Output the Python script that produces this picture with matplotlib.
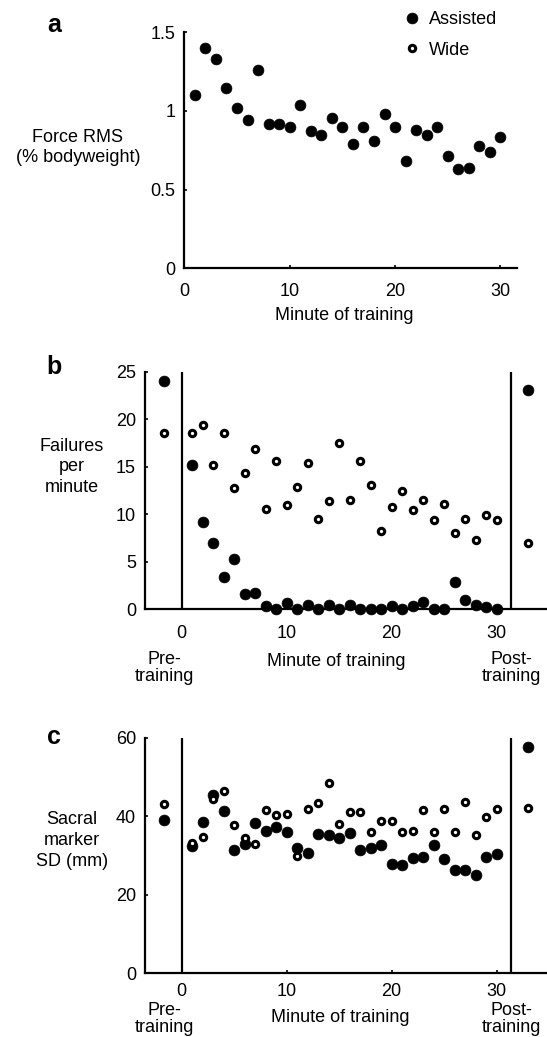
import numpy as np
import matplotlib
matplotlib.use('Agg')
import matplotlib.pyplot as plt

plt.rcParams['font.family'] = ['Liberation Sans', 'DejaVu Sans']

# minute of training (1..30)
minutes = list(range(1, 31))

# panel a: force RMS (% bodyweight), assisted only
force_assisted = [1.10, 1.40, 1.33, 1.145, 1.02, 0.94, 1.26, 0.915, 0.92, 0.90,
                  1.04, 0.87, 0.85, 0.955, 0.895, 0.79, 0.90, 0.81, 0.98, 0.90,
                  0.685, 0.88, 0.845, 0.90, 0.715, 0.633, 0.635, 0.775, 0.74, 0.833]

# panel b: failures per minute
fail_assisted_pre, fail_assisted_post = 24.0, 23.1
fail_assisted = [15.2, 9.15, 7.0, 3.4, 5.25, 1.6, 1.7, 0.3, 0.0, 0.7,
                 0.0, 0.45, 0.0, 0.5, 0.0, 0.45, 0.0, 0.0, 0.0, 0.3,
                 0.0, 0.35, 0.8, 0.0, 0.0, 2.9, 0.95, 0.4, 0.25, 0.0]
fail_wide_pre, fail_wide_post = 18.6, 6.95
fail_wide = [18.6, 19.35, 15.2, 18.55, 12.75, 14.3, 16.9, 10.55, 15.65, 11.0,
             12.9, 15.35, 9.45, 11.4, 17.55, 11.5, 15.65, 13.1, 8.25, 10.8,
             12.45, 10.4, 11.45, 9.35, 11.1, 8.05, 9.45, 7.3, 9.9, 9.35]

# panel c: sacral marker SD (mm)
sacral_assisted_pre, sacral_assisted_post = 39.1, 57.6
sacral_assisted = [32.4, 38.5, 45.4, 41.4, 31.3, 33.0, 38.2, 36.3, 37.2, 36.0,
                   31.8, 30.7, 35.6, 35.3, 34.5, 35.7, 31.3, 31.8, 32.8, 27.8,
                   27.7, 29.4, 29.7, 32.7, 29.0, 26.2, 26.3, 25.0, 29.7, 30.3]
sacral_wide_pre, sacral_wide_post = 43.2, 42.1
sacral_wide = [33.2, 34.6, 44.3, 46.4, 37.8, 34.4, 32.9, 41.5, 40.4, 40.6,
               30.0, 41.8, 43.4, 48.4, 38.0, 41.0, 41.0, 36.1, 38.8, 38.8,
               35.9, 36.2, 41.5, 36.1, 41.9, 35.9, 43.7, 35.2, 39.8, 41.8]

# where pre / post trials sit on the minute axis
PRE_X, POST_X = -1.7, 33.0
POST_LINE = 31.35

W, H = 547, 1037
fig = plt.figure(figsize=(W / 100, H / 100), dpi=100)

def px(x, y):
    # pixel position -> figure fraction
    return x / W, 1 - y / H

FS = 13
filled = dict(marker='o', ls='none', ms=7.8, mfc='black', mec='black', mew=0.5)
hollow = dict(marker='o', ls='none', ms=4.6, mfc='white', mec='black', mew=2.2)

def style(ax, xpad):
    for s in ['top', 'right']:
        ax.spines[s].set_visible(False)
    for s in ['left', 'bottom']:
        ax.spines[s].set_linewidth(1.6)
    ax.tick_params(direction='in', length=2.5, width=1.2, labelsize=FS)
    ax.tick_params(axis='y', pad=6.5)
    ax.tick_params(axis='x', pad=xpad)
    ax.set_xticks([0, 10, 20, 30])

# ---- a
ax1 = fig.add_axes([184.3 / W, 1 - 268.3 / H, 333 / W, 236 / H])
la, = ax1.plot(minutes, force_assisted, **filled, clip_on=False)
lw, = ax1.plot([], [], **hollow)
ax1.set_xlim(0, 31.6)
ax1.set_ylim(0, 1.5)
ax1.set_yticks([0, 0.5, 1, 1.5])
ax1.set_yticklabels(['0', '0.5', '1', '1.5'])
style(ax1, 10.5)
leg = ax1.legend([la, lw], ['Assisted', 'Wide'], loc='upper left',
                 bbox_to_anchor=px(404, 11), bbox_transform=fig.transFigure,
                 frameon=False, fontsize=FS, handlelength=0.9, handletextpad=0.5,
                 labelspacing=0.75, borderpad=0, borderaxespad=0)

fig.text(*px(54, 25), 'a', fontsize=18, fontweight='bold', ha='center', va='center')
fig.text(*px(78, 147.5), 'Force RMS\n(% bodyweight)', fontsize=FS, ha='center',
         va='center', multialignment='center', linespacing=1.25)
fig.text(*px(344, 315), 'Minute of training', fontsize=FS, ha='center', va='center')

# ---- b
ax2 = fig.add_axes([145 / W, 1 - 609.3 / H, 402 / W, 237.6 / H])
ax2.plot(minutes, fail_assisted, **filled, clip_on=False)
ax2.plot(minutes, fail_wide, **hollow, clip_on=False)
ax2.plot([PRE_X, POST_X], [fail_assisted_pre, fail_assisted_post], **filled, clip_on=False)
ax2.plot([PRE_X, POST_X], [fail_wide_pre, fail_wide_post], **hollow, clip_on=False)
ax2.axvline(0, color='black', lw=1.6)
ax2.axvline(POST_LINE, color='black', lw=1.6)
ax2.set_xlim(-3.5, 34.8)
ax2.set_ylim(0, 25)
ax2.set_yticks([0, 5, 10, 15, 20, 25])
style(ax2, 11.5)

fig.text(*px(54, 367), 'b', fontsize=18, fontweight='bold', ha='center', va='center')
fig.text(*px(72, 467), 'Failures\nper\nminute', fontsize=FS, ha='center',
         va='center', multialignment='center', linespacing=1.3)
fig.text(*px(336, 661), 'Minute of training', fontsize=FS, ha='center', va='center')
fig.text(*px(164, 668), 'Pre-\ntraining', fontsize=FS, ha='center', va='center',
         multialignment='center', linespacing=0.95)
fig.text(*px(511.5, 668), 'Post-\ntraining', fontsize=FS, ha='center', va='center',
         multialignment='center', linespacing=0.95)

# ---- c
ax3 = fig.add_axes([145 / W, 1 - 973 / H, 402 / W, 235 / H])
ax3.plot(minutes, sacral_assisted, **filled, clip_on=False)
ax3.plot(minutes, sacral_wide, **hollow, clip_on=False)
ax3.plot([PRE_X, POST_X], [sacral_assisted_pre, sacral_assisted_post], **filled, clip_on=False)
ax3.plot([PRE_X, POST_X], [sacral_wide_pre, sacral_wide_post], **hollow, clip_on=False)
ax3.axvline(0, color='black', lw=1.6)
ax3.axvline(POST_LINE, color='black', lw=1.6)
ax3.set_xlim(-3.5, 34.8)
ax3.set_ylim(0, 60)
ax3.set_yticks([0, 20, 40, 60])
style(ax3, 7)

fig.text(*px(54, 737), 'c', fontsize=18, fontweight='bold', ha='center', va='center')
fig.text(*px(72, 840.5), 'Sacral\nmarker\nSD (mm)', fontsize=FS, ha='center',
         va='center', multialignment='center', linespacing=1.3)
fig.text(*px(340, 1018), 'Minute of training', fontsize=FS, ha='center', va='center')
fig.text(*px(164, 1019), 'Pre-\ntraining', fontsize=FS, ha='center', va='center',
         multialignment='center', linespacing=0.95)
fig.text(*px(511.5, 1019), 'Post-\ntraining', fontsize=FS, ha='center', va='center',
         multialignment='center', linespacing=0.95)

fig.savefig('out.png', dpi=100)
